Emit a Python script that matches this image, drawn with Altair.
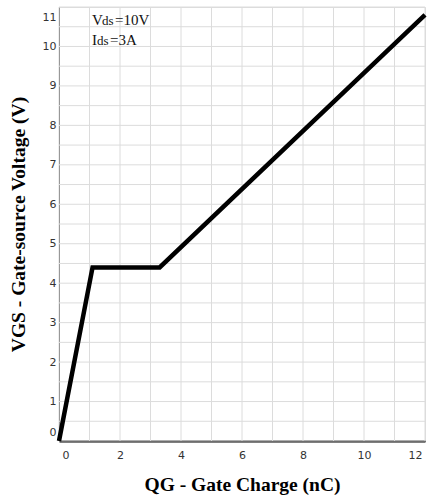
import altair as alt
import pandas as pd

# Data
qg = [0.0, 1.1, 3.3, 12.0]
vgs = [0.0, 4.4, 4.4, 10.8]

x_ticks = [0, 2, 4, 6, 8, 10, 12]
y_ticks = [0, 1, 2, 3, 4, 5, 6, 7, 8, 9, 10, 11]
x_grid = list(range(0, 13))
y_grid = [i * 0.5 for i in range(0, 23)]

df = pd.DataFrame({"qg": qg, "vgs": vgs})

serif = "Liberation Serif"
sans = "DejaVu Sans"

x_scale = alt.Scale(domain=[0, 12], nice=False, zero=False)
y_scale = alt.Scale(domain=[0, 11], nice=False, zero=False)

x_axis = alt.Axis(
    title="QG - Gate Charge (nC)",
    values=x_ticks,
    grid=False,
    ticks=False,
    labelPadding=8,
    labelFlush=True,
    labelFlushOffset=-3,
    labelFont=sans,
    labelFontSize=11,
    labelColor="#333",
    titleFont=serif,
    titleFontSize=19.5,
    titleFontWeight="bold",
    titleColor="#000",
    titlePadding=15,
    domainColor="#000",
    domainWidth=2,
)
y_axis = alt.Axis(
    title="VGS - Gate-source Voltage (V)",
    values=y_ticks,
    grid=False,
    ticks=False,
    labelPadding=3,
    labelFlush=True,
    labelFlushOffset=-4,
    labelFont=sans,
    labelFontSize=11,
    labelColor="#333",
    titleFont=serif,
    titleFontSize=19.5,
    titleFontWeight="bold",
    titleColor="#000",
    titlePadding=14,
    domainColor="#555",
    domainWidth=1,
)

xgrid_df = pd.DataFrame({"qg": x_grid})
ygrid_df = pd.DataFrame({"vgs": y_grid})

vgrid = alt.Chart(xgrid_df).mark_rule(color="#dcdcdc", strokeWidth=1).encode(
    x=alt.X("qg:Q", scale=x_scale, axis=x_axis)
)
hgrid = alt.Chart(ygrid_df).mark_rule(color="#dcdcdc", strokeWidth=1).encode(
    y=alt.Y("vgs:Q", scale=y_scale, axis=y_axis)
)

line = alt.Chart(df).mark_line(color="#000", strokeWidth=4.5, strokeJoin="miter").encode(
    x=alt.X("qg:Q", scale=x_scale, axis=x_axis),
    y=alt.Y("vgs:Q", scale=y_scale, axis=y_axis),
    order=alt.Order("qg:Q"),
)

one = pd.DataFrame({"a": [0]})


def txt(s, x, y, size):
    return alt.Chart(one).mark_text(
        text=s, font=serif, fontSize=size, color="#111", align="left", baseline="alphabetic"
    ).encode(x=alt.value(x), y=alt.value(y))


ann = (
    txt("V", 33, 18, 15)
    + txt("ds", 43, 18, 13)
    + txt("=10V", 56, 18, 15)
    + txt("I", 33, 38, 15)
    + txt("ds", 38, 38, 13)
    + txt("=3A", 51, 38, 15)
)

chart = (
    alt.layer(vgrid, hgrid, line, ann)
    .properties(
        width=366,
        height=434,
        autosize=alt.AutoSizeParams(type="none"),
        padding={"left": 59, "top": 7, "right": 2, "bottom": 62},
    )
    .configure_view(stroke="#666", strokeWidth=1)
    .configure(background="#ffffff")
)

chart.save("out.html", embed_options={"renderer": "svg", "actions": False})
